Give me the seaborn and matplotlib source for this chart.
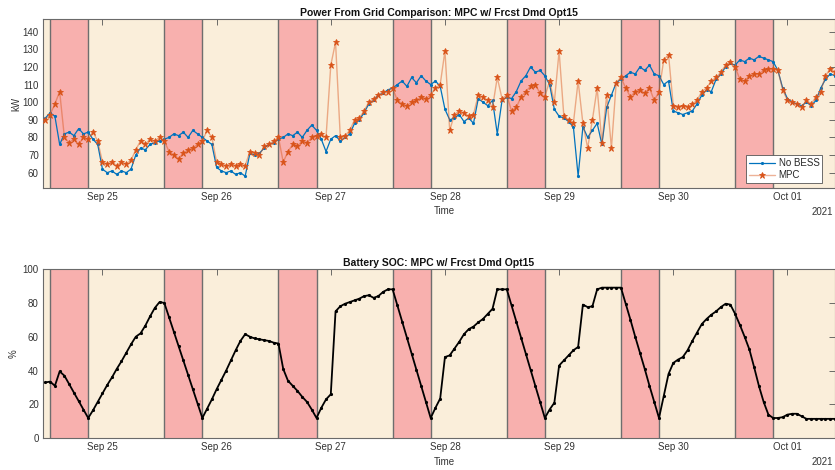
import numpy as np
import pandas as pd
import seaborn as sns
import matplotlib.pyplot as plt
import matplotlib.dates as mdates

# hourly samples starting 2021-09-24 12:00
t_start = '2021-09-24 12:00'
x_range = ['2021-09-24 11:30', '2021-10-01 10:00']

# grid power without battery (kW)
no_bess = [
    91, 94, 92, 76, 82, 83, 81, 85, 82, 83, 79, 76, 62,
    60, 61, 59, 61, 60, 62, 70, 74, 73, 76, 77, 78, 79, 80, 82, 81, 83, 80, 84, 82, 80, 78, 76, 63,
    61, 60, 61, 59, 60, 58, 71, 70, 71, 74, 76, 77, 79, 80, 82, 81, 83, 80, 84, 87, 84, 79, 72, 79,
    81, 78, 80, 82, 88, 90, 94, 99, 101, 104, 105, 107, 108, 110, 112, 109, 114, 111, 115, 112, 110, 112, 109, 96,
    90, 91, 93, 89, 91, 88, 102, 100, 98, 101, 82, 101, 103, 102, 106, 112, 115, 120, 117, 118, 115, 110, 96, 92,
    91, 89, 86, 58, 86, 80, 84, 88, 76, 97, 104, 111, 113, 115, 117, 116, 120, 118, 121, 116, 115, 110, 112, 95,
    94, 93, 94, 95, 99, 104, 107, 106, 113, 116, 120, 122, 121, 124, 123, 125, 124, 126, 125, 124, 123, 118, 108, 102,
    100, 99, 98, 100, 98, 101, 108, 113, 116, 115,
]

# grid power with MPC battery control (kW)
mpc = [
    90, 93, 99, 106, 80, 77, 79, 76, 80, 79, 83, 78, 66,
    65, 66, 64, 66, 65, 67, 73, 78, 76, 79, 78, 80, 78, 72, 70, 68, 71, 73, 74, 76, 78, 84, 80, 66,
    65, 64, 65, 64, 65, 64, 72, 71, 70, 75, 76, 78, 80, 66, 72, 76, 75, 78, 77, 80, 81, 82, 80, 121,
    134, 80, 81, 84, 90, 91, 95, 100, 102, 104, 106, 106, 108, 101, 99, 98, 100, 101, 103, 102, 104, 108, 110, 129,
    84, 93, 95, 94, 92, 93, 104, 103, 101, 97, 114, 102, 104, 95, 97, 103, 106, 109, 110, 105, 103, 112, 100, 129,
    92, 90, 88, 112, 88, 74, 90, 108, 77, 104, 74, 111, 114, 108, 103, 106, 107, 105, 108, 101, 106, 124, 127, 98,
    97, 98, 97, 99, 101, 106, 108, 112, 114, 117, 121, 123, 120, 113, 112, 115, 116, 116, 118, 119, 119, 118, 107, 101,
    100, 99, 97, 101, 99, 103, 106, 115, 119, 117,
]

# battery state of charge (%)
soc = [
    33, 33.5, 31, 39.5, 37, 32, 27, 22, 17, 12, 16.5, 21.5, 26.5,
    31.5, 36, 41, 45.5, 50.5, 55.5, 60, 62, 66.5, 72, 77, 80.5, 80, 71.5, 63, 54.5, 46, 37.5, 29, 20.5, 12, 17.5, 23, 29,
    34.5, 40, 46, 52, 57.5, 61.5, 60, 59, 58.5, 58, 57.5, 56.5, 56, 41, 34, 31, 28, 24.5, 21.5, 17, 12, 18, 23, 26,
    75, 78, 79.5, 80.5, 81.5, 82.5, 84, 84.5, 83, 84, 86.5, 88, 88, 78.5, 69, 59.5, 50, 40.5, 31, 21.5, 12, 18, 23.5, 48,
    49, 53, 57, 61.5, 64.5, 66, 68.5, 70.5, 73.5, 76.5, 88, 88, 88, 78.5, 69, 59.5, 50, 40.5, 31, 21.5, 12, 17, 21, 43,
    46, 49, 52, 54, 79, 77.5, 78, 88, 89, 89, 89, 89, 89, 79.5, 70, 60, 50.5, 41, 31, 21.5, 12, 25, 38, 44.5,
    46.5, 48, 52, 57.5, 62.5, 67.5, 70.5, 73, 75, 77.5, 79.5, 79, 73.5, 67, 60, 52.5, 42, 31, 21.5, 14, 12, 12, 12.5, 14,
    14.5, 14.5, 13, 11.5, 11.5, 11.5, 11.5, 11.5, 11.5, 11.5,
]

# on-peak windows shaded pink
peak_start = ['2021-09-24 13:00', '2021-09-25 13:00', '2021-09-26 13:00', '2021-09-27 13:00',
              '2021-09-28 13:00', '2021-09-29 13:00', '2021-09-30 13:00']
peak_end = ['2021-09-24 21:00', '2021-09-25 21:00', '2021-09-26 21:00', '2021-09-27 21:00',
            '2021-09-28 21:00', '2021-09-29 21:00', '2021-09-30 21:00']

df = pd.DataFrame({'Time': pd.date_range(t_start, periods=len(soc), freq='h'),
                   'No BESS': no_bess, 'MPC': mpc, 'SOC': soc})

sns.set_style('white')
plt.rcParams['font.family'] = ['Liberation Sans', 'DejaVu Sans']

blue = '#0072BD'
orange = '#D95319'
pink = '#F8B0AE'
beige = '#FAEEDA'
edge = '#6e6e6e'
txt = '#333333'

fig = plt.figure(figsize=(8.35, 4.7), dpi=100)
ax1 = fig.add_axes([0.0515, 0.6, 0.9485, 0.3596])
ax2 = fig.add_axes([0.0515, 0.0674, 0.9485, 0.3602])


def shade(ax):
    ax.set_facecolor(beige)
    for s, e in zip(peak_start, peak_end):
        ax.axvspan(pd.Timestamp(s), pd.Timestamp(e), color=pink, lw=0, zorder=0)
        ax.axvline(pd.Timestamp(s), color=edge, lw=1, zorder=1)
        ax.axvline(pd.Timestamp(e), color=edge, lw=1, zorder=1)


def style(ax, title):
    ax.set_xlim(pd.Timestamp(x_range[0]), pd.Timestamp(x_range[1]))
    ax.xaxis.set_major_locator(mdates.DayLocator())
    ax.xaxis.set_major_formatter(mdates.DateFormatter('%b %d'))
    ax.tick_params(which='both', direction='in', top=True, right=True, length=4,
                   width=0.6, color='#555555', labelsize=7, labelcolor=txt, pad=3)
    for sp in ax.spines.values():
        sp.set_color('#6a6a6a')
        sp.set_linewidth(0.8)
    ax.set_title(title, fontsize=7.5, fontweight='bold', color='#111111', pad=2.5)
    ax.set_xlabel('Time', fontsize=7, color=txt)
    ax.xaxis.set_label_coords(0.507, -0.108)
    ax.text(0.9975, -0.14, '2021', transform=ax.transAxes, ha='right', va='center',
            fontsize=7, color=txt)


# top: grid power
shade(ax1)
sns.lineplot(data=df, x='Time', y='No BESS', ax=ax1, color=blue, lw=0.9, marker='.',
             markersize=3, mec=blue, mfc=blue, label='No BESS', zorder=3)
sns.lineplot(data=df, x='Time', y='MPC', ax=ax1, color=(0.85, 0.33, 0.1, 0.45), lw=1.0,
             marker='*', markersize=4.5, mec=orange, mfc=orange, mew=0.6, label='MPC', zorder=4)
ax1.set_ylim(51.3, 147.2)
ax1.set_yticks(np.arange(60, 141, 10))
ax1.set_ylabel('kW', fontsize=7, color=txt, labelpad=1)
style(ax1, 'Power From Grid Comparison: MPC w/ Frcst Dmd Opt15')
leg = ax1.legend(loc='lower right', bbox_to_anchor=(0.984, 0.028), borderaxespad=0,
                 fontsize=7, frameon=True, fancybox=False, handlelength=2.6,
                 borderpad=0.3, labelspacing=0.2, handletextpad=0.4)
leg.get_frame().set_edgecolor('#555555')
leg.get_frame().set_linewidth(0.6)
leg.get_frame().set_facecolor('white')
leg.get_frame().set_alpha(1)

# bottom: battery state of charge
shade(ax2)
sns.lineplot(data=df, x='Time', y='SOC', ax=ax2, color='black', lw=1.3, marker='.',
             markersize=3, mec='black', mfc='black', zorder=3)
ax2.set_ylim(0, 100)
ax2.set_yticks(np.arange(0, 101, 20))
ax2.set_ylabel('%', fontsize=7, color=txt, labelpad=3)
style(ax2, 'Battery SOC: MPC w/ Frcst Dmd Opt15')

fig.savefig('out.png', dpi=100)
